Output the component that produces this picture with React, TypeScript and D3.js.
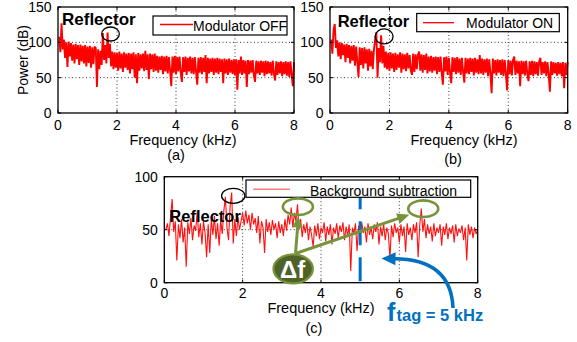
import React from 'react';
import * as d3 from 'd3';

// Spectra sampled every FREQ_STEP kHz, first sample at FREQ_STEP.
const FREQ_STEP = 0.04;

// (a) Modulator OFF, power in dB
const powerOff = [
  108, 86, 127, 90, 104, 78, 100, 65, 101, 80, 99, 74, 97, 70, 98, 76, 96, 68, 97, 73,
  95, 70, 96, 66, 94, 71, 95, 64, 93, 69, 94, 92, 37, 90, 62, 88, 68, 113, 75, 96,
  70, 114, 78, 98, 66, 87, 62, 86, 64, 85, 60, 87, 63, 84, 58, 86, 64, 84, 61, 85,
  56, 84, 62, 86, 50, 83, 42, 85, 60, 83, 63, 84, 59, 88, 61, 83, 48, 84, 62, 83,
  58, 84, 60, 81, 57, 80, 61, 81, 55, 80, 59, 81, 56, 79, 60, 38, 80, 57, 81, 55,
  79, 59, 80, 57, 44, 79, 58, 80, 54, 78, 59, 80, 56, 78, 55, 79, 58, 40, 78, 57,
  79, 55, 78, 58, 82, 42, 78, 56, 77, 58, 78, 54, 77, 57, 78, 55, 77, 58, 76, 42,
  77, 56, 76, 54, 77, 57, 75, 55, 76, 53, 76, 33, 75, 56, 80, 54, 75, 56, 74, 37,
  75, 55, 74, 57, 75, 53, 44, 74, 56, 73, 54, 74, 57, 73, 52, 74, 55, 73, 56, 72,
  53, 74, 55, 46, 73, 54, 72, 56, 73, 52, 72, 55, 73, 53, 72, 51, 73, 54, 38, 72,
];

// (b) Modulator ON, power in dB
const powerOn = [
  104, 84, 118, 126, 92, 103, 80, 100, 76, 99, 82, 97, 72, 98, 78, 96, 70, 95, 74, 96,
  67, 94, 72, 51, 93, 68, 92, 63, 93, 70, 90, 60, 91, 66, 88, 62, 90, 104, 114, 50,
  92, 72, 110, 70, 95, 64, 87, 62, 85, 60, 86, 63, 84, 58, 85, 61, 83, 64, 86, 57,
  84, 62, 83, 59, 85, 63, 82, 60, 54, 84, 58, 83, 62, 82, 87, 60, 83, 57, 82, 61,
  84, 56, 80, 59, 81, 57, 79, 60, 80, 55, 79, 58, 80, 56, 40, 79, 59, 80, 54, 78,
  57, 42, 79, 58, 78, 55, 79, 57, 77, 54, 78, 58, 43, 78, 56, 77, 55, 78, 58, 77,
  53, 78, 57, 76, 55, 82, 56, 77, 54, 76, 57, 77, 52, 76, 55, 28, 77, 56, 75, 53,
  76, 57, 75, 54, 76, 52, 75, 56, 32, 75, 55, 74, 53, 75, 80, 54, 74, 56, 73, 38,
  74, 55, 73, 53, 74, 56, 45, 73, 54, 74, 52, 73, 55, 72, 53, 73, 78, 54, 72, 56,
  73, 52, 72, 55, 30, 73, 54, 72, 56, 71, 53, 72, 55, 71, 52, 72, 35, 71, 54, 72,
];

// (c) Background subtraction, power in dB
const powerSub = [
  50, 56, 44, 62, 79, 48, 58, 21, 55, 42, 60, 38, 52, 15, 57, 46, 61, 40, 54, 49,
  67, 43, 56, 36, 58, 47, 24, 55, 28, 60, 45, 63, 41, 56, 35, 59, 46, 68, 81, 52,
  40, 72, 85, 37, 60, 44, 62, 50, 58, 66, 54, 68, 56, 64, 50, 66, 55, 61, 47, 63,
  37, 58, 52, 28, 60, 48, 57, 45, 59, 50, 56, 42, 58, 47, 55, 44, 60, 49, 64, 55,
  71, 52, 66, 58, 74, 50, 60, 43, 55, 47, 57, 40, 53, 45, 34, 54, 44, 56, 41, 52,
  47, 57, 39, 53, 45, 55, 36, 52, 46, 56, 42, 54, 48, 57, 40, 53, 44, 55, 11, 52,
  46, 56, 30, 54, 43, 57, 47, 53, 38, 56, 45, 52, 41, 55, 48, 57, 36, 53, 44, 55,
  40, 52, 46, 23, 54, 43, 56, 47, 52, 38, 55, 44, 53, 29, 56, 45, 52, 40, 55, 47,
  57, 24, 54, 70, 48, 60, 42, 55, 46, 53, 39, 56, 44, 52, 47, 55, 35, 53, 45, 56,
  41, 52, 46, 54, 38, 55, 44, 51, 47, 54, 40, 52, 21, 55, 45, 53, 42, 52, 46, 50,
];

const xTicks = [0, 2, 4, 6, 8];
const yTicksTop = [0, 50, 100, 150];
const yTicksBottom = [0, 50, 100];
const TAG_FREQ = 5; // kHz

const FONT = "'Liberation Sans', Arial, Helvetica, sans-serif";
const RED = '#ff0000';
const OLIVE = '#77933c';
const OLIVE_DARK = '#4f6228';
const BLUE = '#0070c0';

type Scale = d3.ScaleLinear<number, number>;

type PanelProps = {
  left: number;
  right: number;
  top: number;
  bottom: number;
  yMax: number;
  yTicks: number[];
  gridY: number[];
  values: number[];
  lineWidth: number;
  lineColor: string;
  tickLabelGap: number;
  xLabelX: number;
  xLabelY: number;
  caption: string;
  captionX: number;
  captionY: number;
  yLabel?: string;
  under?: (x: Scale, y: Scale) => React.ReactNode;
  over?: (x: Scale, y: Scale) => React.ReactNode;
};

function Panel(p: PanelProps) {
  const x = d3.scaleLinear().domain([0, 8]).range([p.left, p.right]);
  const y = d3.scaleLinear().domain([0, p.yMax]).range([p.bottom, p.top]);
  const line = d3
    .line<number>()
    .x((_, i) => x((i + 1) * FREQ_STEP))
    .y((d) => y(d));
  const tickLen = 3;
  const gridX = xTicks.filter((t) => t > 0 && t < 8);

  return (
    <g>
      {/* dotted grid */}
      {gridX.map((t) => (
        <line key={'gx' + t} x1={x(t)} x2={x(t)} y1={p.top} y2={p.bottom}
          stroke="#222" strokeWidth={0.9} strokeDasharray="1 2.5" />
      ))}
      {p.gridY.map((t) => (
        <line key={'gy' + t} x1={p.left} x2={p.right} y1={y(t)} y2={y(t)}
          stroke="#222" strokeWidth={0.9} strokeDasharray="1 2.5" />
      ))}

      <path d={line(p.values) || ''} fill="none" stroke={p.lineColor}
        strokeWidth={p.lineWidth} strokeLinejoin="miter" strokeMiterlimit={2} />

      {p.under && p.under(x, y)}

      {/* box and inner ticks */}
      <rect x={p.left} y={p.top} width={p.right - p.left} height={p.bottom - p.top}
        fill="none" stroke="#000" strokeWidth={1.3} />
      {xTicks.map((t) => (
        <g key={'xt' + t}>
          <line x1={x(t)} x2={x(t)} y1={p.bottom} y2={p.bottom - tickLen} stroke="#000" strokeWidth={1} />
          <line x1={x(t)} x2={x(t)} y1={p.top} y2={p.top + tickLen} stroke="#000" strokeWidth={1} />
          <text x={x(t)} y={p.bottom + p.tickLabelGap} textAnchor="middle" fontSize={14} fontFamily={FONT}>{t}</text>
        </g>
      ))}
      {p.yTicks.map((t) => (
        <g key={'yt' + t}>
          <line x1={p.left} x2={p.left + tickLen} y1={y(t)} y2={y(t)} stroke="#000" strokeWidth={1} />
          <line x1={p.right} x2={p.right - tickLen} y1={y(t)} y2={y(t)} stroke="#000" strokeWidth={1} />
          <text x={p.left - 6.5} y={y(t) + 5} textAnchor="end" fontSize={14} fontFamily={FONT}>{t}</text>
        </g>
      ))}

      <text x={p.xLabelX} y={p.xLabelY} textAnchor="middle" fontSize={14.5} fontFamily={FONT}>Frequency (kHz)</text>
      <text x={p.captionX} y={p.captionY} textAnchor="middle" fontSize={14.5} fontFamily={FONT}>{p.caption}</text>
      {p.yLabel && (
        <g transform={`translate(28,${(p.top + p.bottom) / 2}) rotate(-90)`}>
          <text textAnchor="middle" fontSize={14} fontFamily={FONT}>{p.yLabel}</text>
        </g>
      )}

      {p.over && p.over(x, y)}
    </g>
  );
}

function Legend({ x0, x1, y0, y1, lineX0, lineX1, lineY, textX, textY, color, label, lineWidth }: {
  x0: number; x1: number; y0: number; y1: number; lineX0: number; lineX1: number; lineY: number;
  textX: number; textY: number; color: string; label: string; lineWidth: number;
}) {
  return (
    <g>
      <rect x={x0} y={y0} width={x1 - x0} height={y1 - y0} fill="#fff" stroke="#000" strokeWidth={1.2} />
      <line x1={lineX0} x2={lineX1} y1={lineY} y2={lineY} stroke={color} strokeWidth={lineWidth} />
      <text x={textX} y={textY} fontSize={14} fontFamily={FONT}>{label}</text>
    </g>
  );
}

function Arrowhead({ tipX, tipY, fromX, fromY, len, half, color }: {
  tipX: number; tipY: number; fromX: number; fromY: number; len: number; half: number; color: string;
}) {
  const ang = Math.atan2(tipY - fromY, tipX - fromX);
  const bx = tipX - len * Math.cos(ang);
  const by = tipY - len * Math.sin(ang);
  const px = -Math.sin(ang) * half;
  const py = Math.cos(ang) * half;
  return <path d={`M${tipX},${tipY}L${bx + px},${by + py}L${bx - px},${by - py}Z`} fill={color} />;
}

export default function App() {
  return (
    <svg width={577} height={342} style={{ display: 'block', position: 'absolute', left: 0, top: 0 }}>
      <rect width={577} height={342} fill="#fff" />

      {/* (a) */}
      <Panel left={58} right={294} top={7} bottom={113} yMax={150} yTicks={yTicksTop} gridY={[50, 100]}
        values={powerOff} lineWidth={1.9} lineColor={RED} tickLabelGap={16.5}
        xLabelX={183} xLabelY={144.5} caption="(a)" captionX={176} captionY={160} yLabel="Power (dB)"
        over={(x, y) => (
          <g>
            <text x={62} y={25} fontSize={17} fontWeight="bold" fontFamily={FONT}>Reflector</text>
            <ellipse cx={x(1.78)} cy={y(111.8)} rx={8.8} ry={7} fill="none" stroke="#000" strokeWidth={1.3} />
            <Legend x0={153} x1={287} y0={16} y1={35} lineX0={160} lineX1={193} lineY={24.5}
              textX={193} textY={31} color={RED} label="Modulator OFF" lineWidth={1.3} />
          </g>
        )}
      />

      {/* (b) */}
      <Panel left={330} right={567.7} top={7} bottom={113} yMax={150} yTicks={yTicksTop} gridY={[50, 100]}
        values={powerOn} lineWidth={1.9} lineColor={RED} tickLabelGap={16.5}
        xLabelX={464} xLabelY={144.5} caption="(b)" captionX={453} captionY={164}
        over={(x, y) => (
          <g>
            <text x={337.7} y={27} fontSize={16.5} fontWeight="bold" fontFamily={FONT}>Reflector</text>
            <ellipse cx={x(1.82)} cy={y(108.3)} rx={9} ry={7.5} fill="none" stroke="#000" strokeWidth={1.3} />
            <Legend x0={416.7} x1={559.3} y0={13.5} y1={31.7} lineX0={423} lineX1={454} lineY={22.7}
              textX={466} textY={28.3} color={RED} label="Modulator ON" lineWidth={1.3} />
          </g>
        )}
      />

      {/* (c) */}
      <Panel left={164.3} right={477.7} top={176.7} bottom={282.7} yMax={100} yTicks={yTicksBottom} gridY={[50]}
        values={powerSub} lineWidth={1.1} lineColor="#ff1010" tickLabelGap={15}
        xLabelX={321} xLabelY={313} caption="(c)" captionX={314} captionY={333}
        under={(x, y) => (
          <line x1={x(TAG_FREQ)} x2={x(TAG_FREQ)} y1={y(92)} y2={y(0)} stroke={BLUE} strokeWidth={3}
            strokeDasharray="24 12" />
        )}
        over={(x, y) => {
          const sx = 295.5, sy = 253.5;
          return (
            <g>
              <Legend x0={246} x1={470.7} y0={180} y1={197.3} lineX0={253.3} lineX1={290} lineY={189.3}
                textX={310} textY={195.5} color="#ff7a7a" label="Background subtraction" lineWidth={1.6} />
              <text x={169.3} y={221.5} fontSize={16.5} fontWeight="bold" fontFamily={FONT}>Reflector</text>
              <ellipse cx={x(1.76)} cy={y(82)} rx={11.7} ry={7.5} fill="none" stroke="#000" strokeWidth={1.3} />

              {/* sidebands around the tag frequency */}
              <ellipse cx={x(3.41)} cy={y(71.7)} rx={15} ry={8.3} fill="none" stroke={OLIVE} strokeWidth={2.6} />
              <ellipse cx={x(6.61)} cy={y(69.8)} rx={15} ry={8.3} fill="none" stroke={OLIVE} strokeWidth={2.6} />
              <line x1={sx} y1={sy} x2={297.8} y2={225} stroke={OLIVE} strokeWidth={3} />
              <Arrowhead tipX={298.3} tipY={216.5} fromX={sx} fromY={sy} len={11} half={5.5} color={OLIVE} />
              <line x1={sx} y1={sy} x2={398.5} y2={218.3} stroke={OLIVE} strokeWidth={3} />
              <Arrowhead tipX={409.3} tipY={214.8} fromX={sx} fromY={sy} len={12} half={5.5} color={OLIVE} />
              <ellipse cx={x(3.29)} cy={y(13.1)} rx={19.7} ry={14.5} fill={OLIVE_DARK} stroke={OLIVE} strokeWidth={2.2} />
              <text x={292.5} y={278} textAnchor="middle" fontSize={24} fontWeight="bold" fill="#fff"
                fontFamily={FONT}>Δf</text>

              {/* tag frequency callout */}
              <path d="M453,308 Q451,259 394,258.8" fill="none" stroke={BLUE} strokeWidth={3.5} />
              <Arrowhead tipX={381.5} tipY={258.5} fromX={396} fromY={258.8} len={14} half={6.5} color={BLUE} />
              <text x={387} y={320.5} fontSize={25} fontWeight="bold" fill={BLUE} fontFamily={FONT}>f</text>
              <text x={396.5} y={320.5} fontSize={16.5} fontWeight="bold" fill={BLUE} fontFamily={FONT}>tag = 5 kHz</text>
            </g>
          );
        }}
      />
    </svg>
  );
}
